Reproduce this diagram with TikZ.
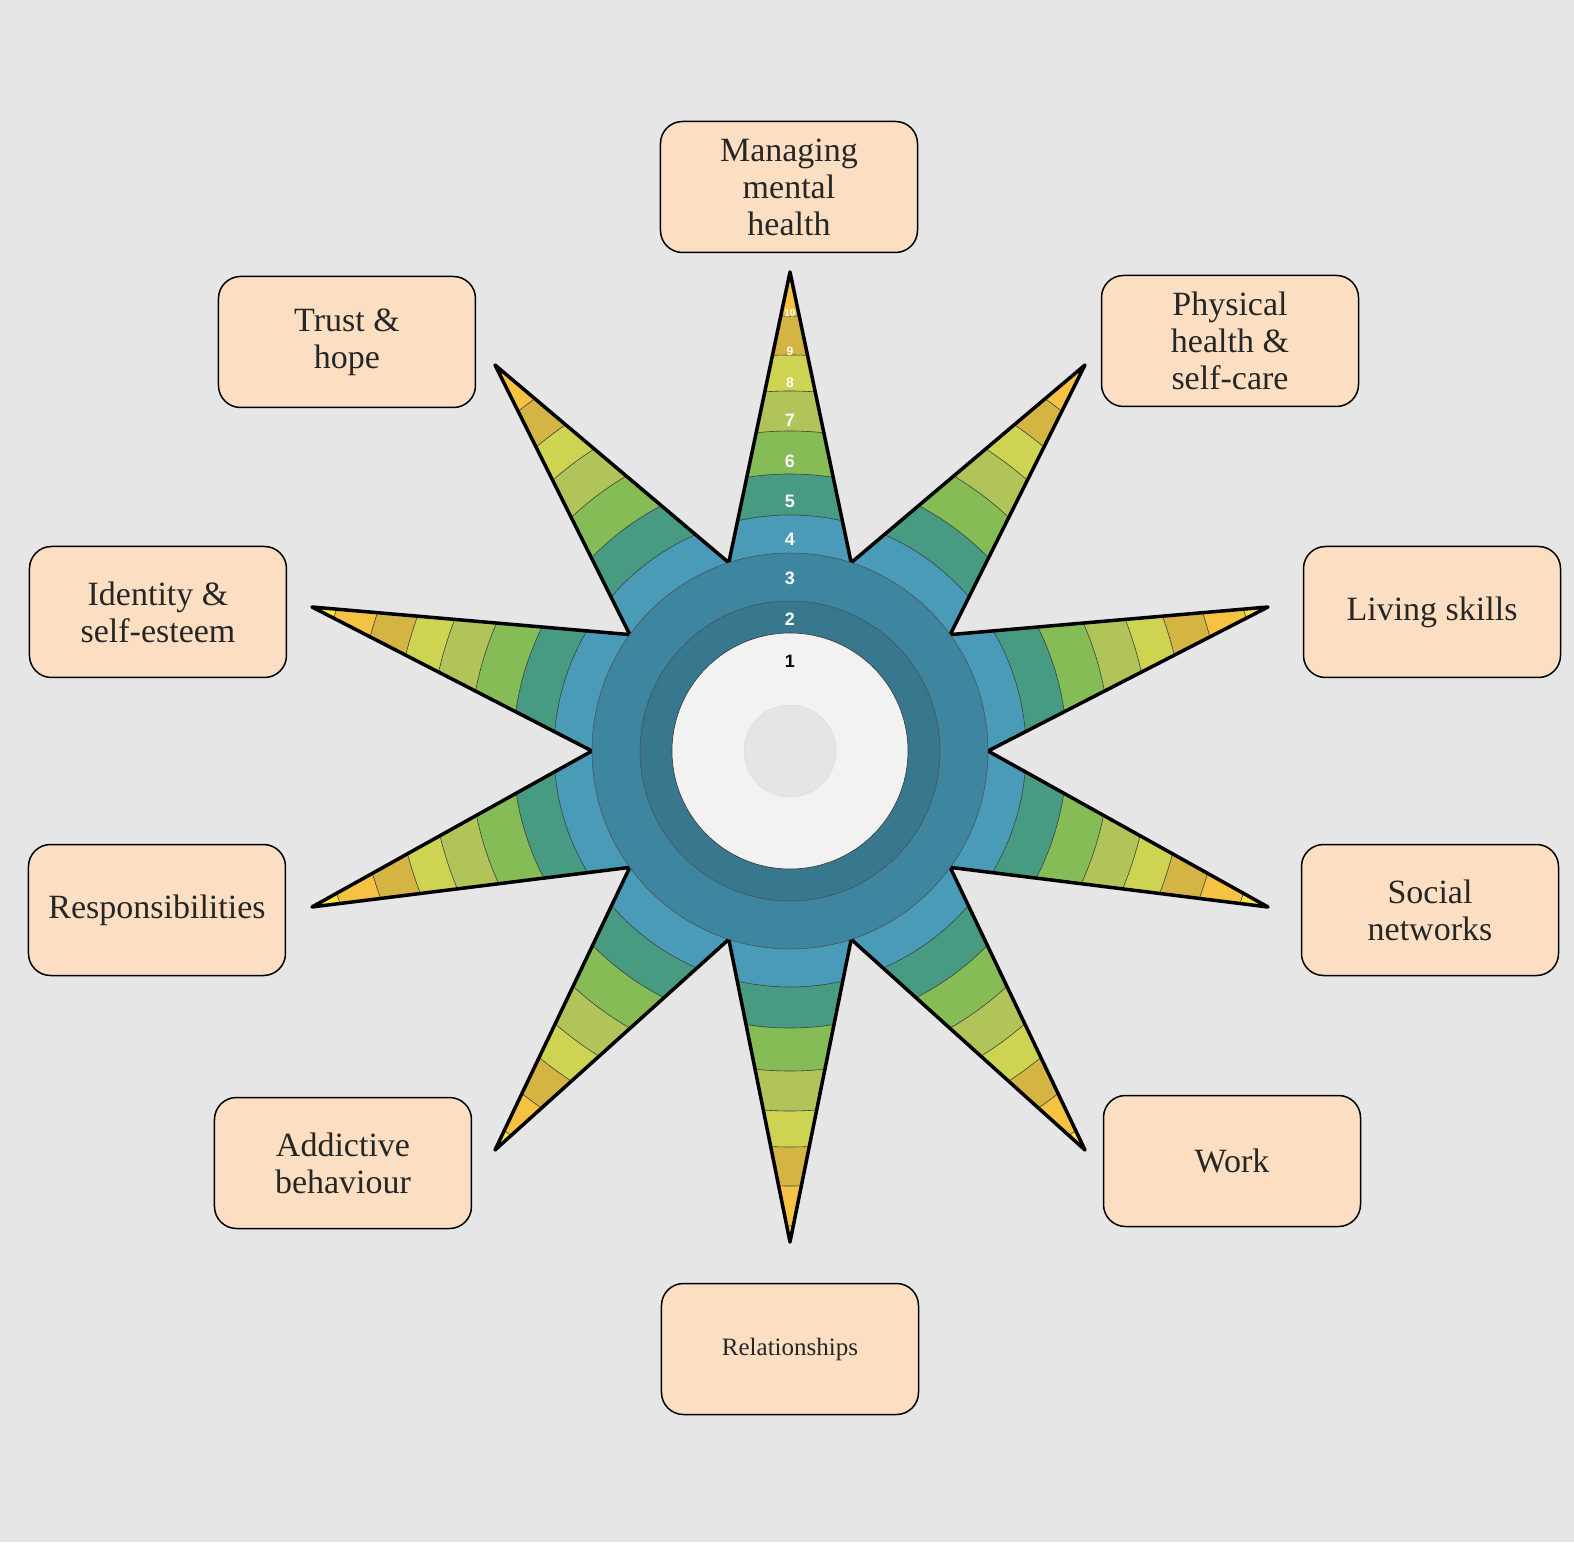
\documentclass[tikz,border=0pt]{standalone}
\usepackage{fontspec}
\setmainfont{Liberation Serif}
\newfontfamily\numfont{Liberation Sans}
\begin{document}
\begin{tikzpicture}[x=1pt,y=1pt,
  lbl/.style={draw=black,line width=1.5pt,fill=boxc,rounded corners=22pt,minimum width=257pt,minimum height=131pt,align=center,font=\fontsize{34}{37}\selectfont,text=black!85},
  num/.style={text=white,font=\numfont\bfseries\fontsize{18}{18}\selectfont}]
\definecolor{bg}{HTML}{E6E6E6}
\definecolor{boxc}{HTML}{FCDFC2}
\definecolor{cA}{HTML}{F2F2F2}
\definecolor{cB}{HTML}{37788F}
\definecolor{cC}{HTML}{3E85A0}
\definecolor{cD}{HTML}{4A9BB8}
\definecolor{cE}{HTML}{469B82}
\definecolor{cF}{HTML}{86BC55}
\definecolor{cG}{HTML}{B1C45A}
\definecolor{cH}{HTML}{CFD352}
\definecolor{cI}{HTML}{D4B443}
\definecolor{cJ}{HTML}{F5C243}
\definecolor{cK}{HTML}{F8E244}
\fill[bg] (-790,-791) rectangle (784,751);
\useasboundingbox (-790,-791) rectangle (784,751);
\def\starpath{(0,479) -- (72:198) -- (295,386) -- (36:198) -- (478,144) -- (0:198) -- (478,-156) -- (-36:198) -- (295,-399) -- (-72:198) -- (0,-491) -- (-108:198) -- (-295,-399) -- (-144:198) -- (-478,-156) -- (180:198) -- (-478,144) -- (144:198) -- (-295,386) -- (108:198) -- cycle}
\begin{scope}
\clip \starpath;
\foreach \r/\c in {520/cK,475/cJ,435/cI,396/cH,360/cG,320/cF,277/cE,236/cD}{
  \fill[\c] (0,0) circle (\r);
  \draw[black!75,line width=0.6pt] (0,0) circle (\r);
}
\end{scope}
\draw[line width=3.5pt,line join=round] \starpath;
\fill[cC] (0,0) circle (198); \draw[black!70,line width=0.5pt] (0,0) circle (198);
\fill[cB] (0,0) circle (150); \draw[black!70,line width=0.5pt] (0,0) circle (150);
\fill[cA] (0,0) circle (118); \draw[black!80,line width=0.6pt] (0,0) circle (118);
\fill[black!10] (0,0) circle (46); \draw[black!15] (0,0) circle (46);
\node[num,text=black] (n1) at (0,90) {1};
\node[num] (n2) at (0,132) {2};
\node[num] (n3) at (0,173) {3};
\node[num] (n4) at (0,212) {4};
\node[num] (n5) at (0,250) {5};
\node[num] (n6) at (0,290) {6};
\node[num] (n7) at (0,331) {7};
\node[num,font=\numfont\bfseries\fontsize{14}{14}\selectfont] (n8) at (0,368) {8};
\node[num,font=\numfont\bfseries\fontsize{12}{12}\selectfont] (n9) at (0,400) {9};
\node[num,font=\numfont\bfseries\fontsize{10}{10}\selectfont] (n10) at (0,438) {10};
\node[lbl] (b1) at (-1,564) {Managing\\mental\\health};
\node[lbl] (b2) at (440,410) {Physical\\health \&\\self-care};
\node[lbl] (b3) at (642,139) {Living skills};
\node[lbl] (b4) at (640,-159) {Social\\networks};
\node[lbl] (b5) at (442,-410) {Work};
\node[lbl,font=\fontsize{25}{28}\selectfont] (b6) at (0,-598) {Relationships};
\node[lbl] (b7) at (-447,-412) {Addictive\\behaviour};
\node[lbl] (b8) at (-633,-159) {Responsibilities};
\node[lbl] (b9) at (-632,139) {Identity \&\\self-esteem};
\node[lbl] (b10) at (-443,409) {Trust \&\\hope};
\end{tikzpicture}
\end{document}
